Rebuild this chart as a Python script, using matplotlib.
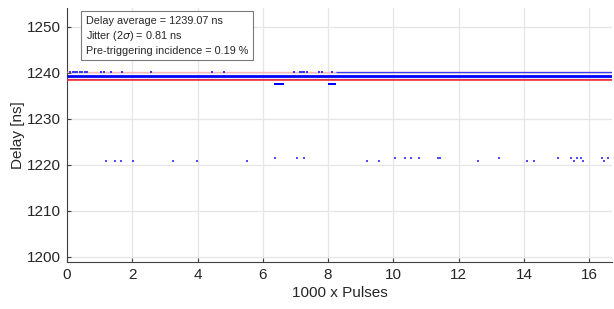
import numpy as np
import matplotlib
matplotlib.use("Agg")
import matplotlib.pyplot as plt

plt.rcParams['font.family'] = ['Liberation Sans', 'DejaVu Sans']
plt.rcParams['mathtext.fontset'] = 'dejavusans'

# pulse axis extent (x 1000 pulses)
x_start, x_end = 0.0, 16.7

# continuous bands of the dense delay cloud [ns]
band_levels = [1240.22, 1239.35, 1238.78, 1238.42]
band_colors = ['#ffb8b8', '#0000ff', '#6a6aff', '#ff2020']
band_widths = [1.0, 2.0, 0.9, 1.1]

# upper row of delays (~1240.1 ns): sparse points, then dense from 8.25k
upper_level = 1240.1
upper_x = [0.1, 0.18, 0.25, 0.32, 0.4, 0.47, 0.55, 0.62, 1.03, 1.13, 1.35,
           1.69, 2.56, 4.45, 4.81, 6.94, 7.13, 7.19, 7.25, 7.35, 7.72, 7.8, 8.13]
upper_dense = (8.25, 16.7)

# small early-delay clusters (~1237.6 ns)
low_level = 1237.6
low_x = [6.38, 6.44, 6.5, 6.56, 6.63, 8.04, 8.1, 8.16, 8.22]

# pre-triggering outliers
out_a_x = [1.2, 1.47, 1.66, 2.02, 3.25, 3.98, 5.51, 9.19, 9.55, 12.58,
           14.10, 14.32, 15.54, 15.82, 16.44]
out_a_y = 1220.8
out_b_x = [6.36, 7.06, 7.25, 10.04, 10.35, 10.54, 10.78, 11.36, 11.42,
           13.23, 15.05, 15.44, 15.62, 15.74, 16.38, 16.56]
out_b_y = 1221.6

fig = plt.figure(figsize=(6.14, 3.09), dpi=100)
ax = fig.add_axes([0.109, 0.152, 0.888, 0.822])

for lev, c, w in zip(band_levels, band_colors, band_widths):
    ax.hlines(lev, x_start, x_end, colors=c, linewidth=w, zorder=3)

ax.hlines(upper_level, upper_dense[0], upper_dense[1], colors='#3a3aff',
          linewidth=0.9, zorder=3)
ax.plot(upper_x, [upper_level] * len(upper_x), 's', color='#3a3aff',
        markersize=1.5, markeredgewidth=0, zorder=3)
ax.plot(low_x, [low_level] * len(low_x), 's', color='#0000ff',
        markersize=2.0, markeredgewidth=0, zorder=3)
ax.plot(out_a_x, [out_a_y] * len(out_a_x), 's', color='#3030ff',
        markersize=2.0, markeredgewidth=0, alpha=0.85, zorder=3)
ax.plot(out_b_x, [out_b_y] * len(out_b_x), 's', color='#3030ff',
        markersize=2.0, markeredgewidth=0, alpha=0.85, zorder=3)

ax.set_xlim(x_start, x_end)
ax.set_ylim(1198.9, 1254.1)
ax.set_xticks(np.arange(0, 17, 2))
ax.set_yticks(np.arange(1200, 1251, 10))
ax.grid(True, color='#e6e6e6', linewidth=0.9)
ax.set_axisbelow(True)
for s in ['top', 'right']:
    ax.spines[s].set_visible(False)
for s in ['left', 'bottom']:
    ax.spines[s].set_color('#404040')
    ax.spines[s].set_linewidth(0.8)
ax.tick_params(direction='in', length=3, width=0.8, color='#404040',
               labelsize=11, labelcolor='#262626', pad=4)

ax.set_xlabel('1000 x Pulses', fontsize=11, color='#262626', labelpad=3)
ax.set_ylabel('Delay [ns]', fontsize=11, color='#262626', labelpad=2)

ax.text(0.035, 0.968,
        'Delay average = 1239.07 ns\n'
        'Jitter (2$\\sigma$) = 0.81 ns\n'
        'Pre-triggering incidence = 0.19 %',
        transform=ax.transAxes, ha='left', va='top', fontsize=7.8,
        color='#262626', linespacing=1.3, zorder=5,
        bbox=dict(boxstyle='square,pad=0.45', facecolor='white',
                  edgecolor='#7a7a7a', linewidth=0.8))

fig.savefig('out.png', dpi=100)
